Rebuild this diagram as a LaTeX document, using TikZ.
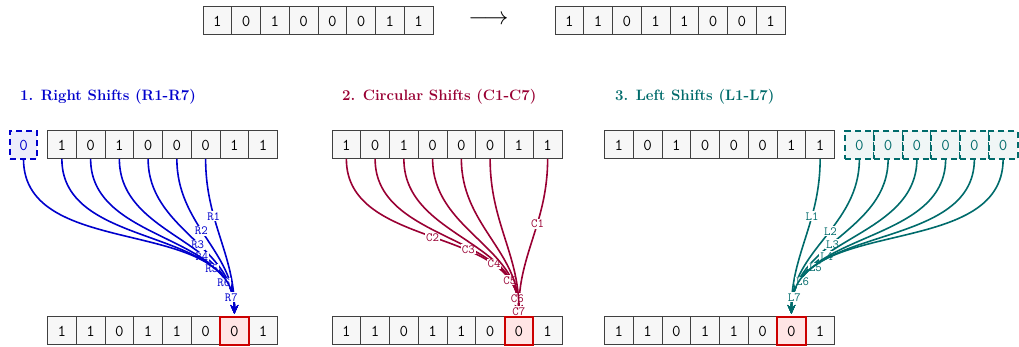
\documentclass[tikz,border=0pt]{standalone}
\usepackage{fontspec}
\usetikzlibrary{arrows.meta}
\definecolor{rblue}{HTML}{0000CC}
\definecolor{ccrim}{HTML}{990033}
\definecolor{lteal}{HTML}{006B6B}
\definecolor{cellfill}{HTML}{F7F7F7}
\definecolor{hlred}{HTML}{CC0000}
\definecolor{hlfill}{HTML}{FFE5E5}
\newcommand\mkrow[4]{\foreach \b [count=\i from 0] in {#4} \node[cell] (#1-\i) at (#2+14.375+28.75*\i,#3) {\b};}
\newcommand\mkbottom[2]{%
  \foreach \i/\b in {0/1,1/1,2/0,3/1,4/1,5/0,7/1} \node[cell] (#1-\i) at (#2+14.375+28.75*\i,16) {\b};
  \node[hl] (#1-6) at (#2+14.375+172.5,16) {0};}
\begin{document}
\begin{tikzpicture}[x=1pt,y=1pt,
  cell/.style={draw=black!75, line width=1pt, fill=cellfill, minimum width=28.75pt, minimum height=28pt, inner sep=0pt, outer sep=0pt, font=\fontsize{16.5}{16.5}\selectfont\ttfamily},
  hl/.style={cell, draw=hlred, line width=2pt, fill=hlfill},
  pad/.style={cell, dash pattern=on 6pt off 4pt, line width=2pt},
  title/.style={anchor=base west, inner sep=0pt, font=\fontsize{15}{18}\selectfont\bfseries},
  lab/.style={fill=white, inner sep=1pt, font=\fontsize{12.5}{12.5}\selectfont\ttfamily},
  shiftarrow/.style={line width=1.6pt, shorten >=3pt, -{Stealth[length=9pt,width=8pt]}}
]
\useasboundingbox (0,0) rectangle (1019,347);
% top row
\mkrow{A}{203}{326}{1,0,1,0,0,0,1,1}
\mkrow{B}{555}{326}{1,1,0,1,1,0,0,1}
\node[font=\fontsize{31}{31}\selectfont, inner sep=0pt] (arr) at (488.5,327) {$\longrightarrow$};
% titles
\node[title, text=rblue] (Rtitle) at (20,246) {1. Right Shifts (R1-R7)};
\node[title, text=ccrim] (Ctitle) at (342,246) {2. Circular Shifts (C1-C7)};
\node[title, text=lteal] (Ltitle) at (615,246) {3. Left Shifts (L1-L7)};
% section arrays
\mkrow{Rt}{47.5}{202}{1,0,1,0,0,0,1,1}
\mkrow{Ct}{332}{202}{1,0,1,0,0,0,1,1}
\mkrow{Lt}{604.5}{202}{1,0,1,0,0,0,1,1}
\node[pad, draw=rblue, fill=rblue!7, text=rblue, minimum width=27pt] (Rp) at (23.5,202) {0};
\foreach \j in {1,...,6} \node[pad, draw=lteal, fill=lteal!6, text=lteal] (Lp-\j) at (845+14.375+28.75*\j-28.75,202) {0};
\mkbottom{Rb}{47.5}
\mkbottom{Cb}{332}
\mkbottom{Lb}{604.5}
% connectors
\foreach \s/\k/\p in {Rt-5/1/0.35, Rt-4/2/0.45, Rt-3/3/0.55, Rt-2/4/0.65, Rt-1/5/0.75, Rt-0/6/0.85, Rp/7/0.93}
  \draw[shiftarrow, rblue] (\s.south) to[out=-90,in=90] node[lab, text=rblue, pos=\p] {R\k} (Rb-6.north);
\foreach \s/\k/\p in {Ct-7/1/0.4, Ct-0/2/0.5, Ct-1/3/0.6, Ct-2/4/0.7, Ct-3/5/0.8, Ct-4/6/0.9, Ct-5/7/0.97}
  \draw[shiftarrow, ccrim] (\s.south) to[out=-90,in=90] node[lab, text=ccrim, pos=\p] {C\k} (Cb-6.north);
\foreach \s/\k/\p in {Lt-7/1/0.35, Lp-1/2/0.45, Lp-2/3/0.55, Lp-3/4/0.65, Lp-4/5/0.75, Lp-5/6/0.85, Lp-6/7/0.93}
  \draw[shiftarrow, lteal] (\s.south) to[out=-90,in=90] node[lab, text=lteal, pos=\p] {L\k} (Lb-6.north);
\end{tikzpicture}
\end{document}
